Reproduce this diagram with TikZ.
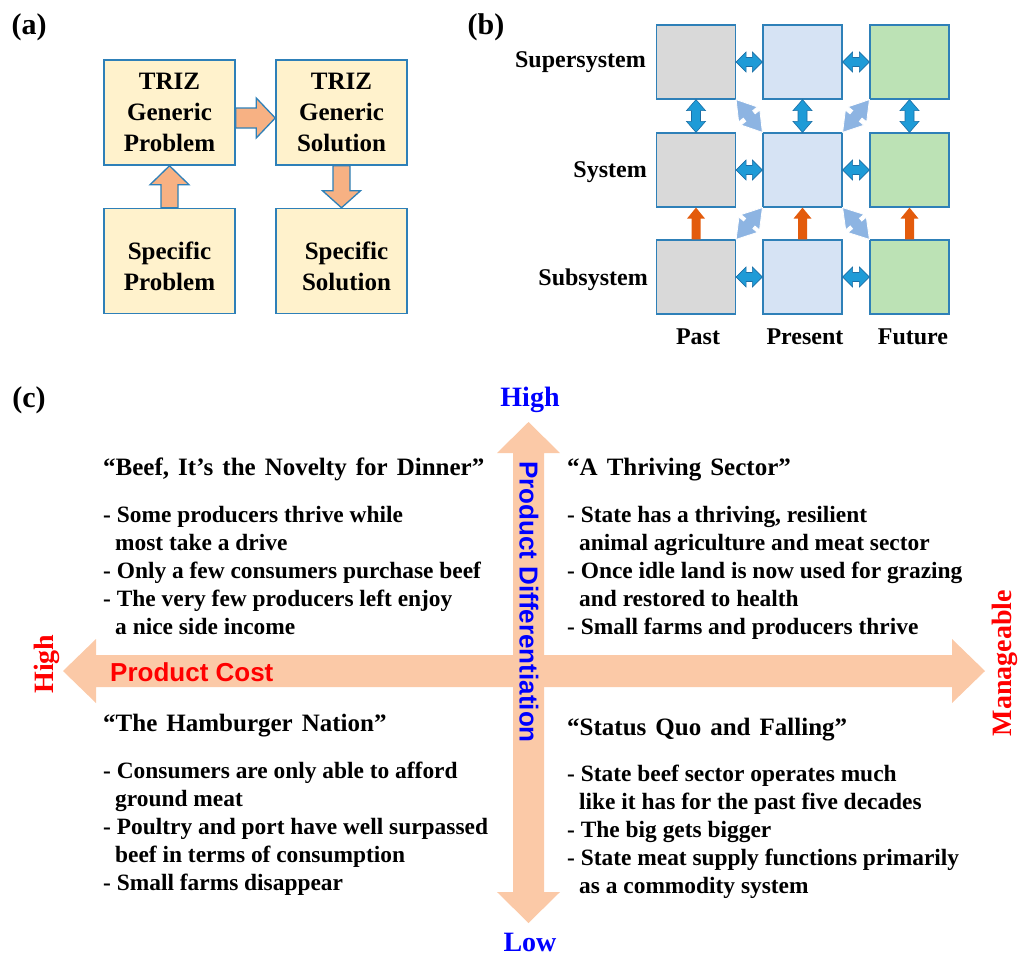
\documentclass[tikz,border=0pt]{standalone}
\usepackage{fontspec}
\setmainfont{Liberation Serif}
\newfontfamily\arialfont{Liberation Sans}
\newfontfamily\titlefont[WordSpace=1.45]{Liberation Serif}
\usetikzlibrary{calc}
\definecolor{boxyel}{HTML}{FFF2CC}
\definecolor{boxedge}{HTML}{2E80B8}
\definecolor{arrorange}{HTML}{F7B183}
\definecolor{cgray}{HTML}{D9D9D9}
\definecolor{cblue}{HTML}{D6E3F4}
\definecolor{cgreen}{HTML}{BCE2B5}
\definecolor{dblfill}{HTML}{1E9BD7}
\definecolor{dbledge}{HTML}{1B6EA5}
\definecolor{orgarr}{HTML}{E35B0C}
\definecolor{diagarr}{HTML}{8DB4E2}
\definecolor{peach}{HTML}{FBC9A7}
\definecolor{pureblue}{HTML}{0000FF}
\definecolor{purered}{HTML}{FF0000}
% single fat arrow: style, from, to, shaft half width, head half width, head length
\newcommand\fatarrow[6]{%
  \path[#1] let \p1=#2, \p2=#3, \n1={veclen(\x2-\x1,\y2-\y1)}, \n2={atan2(\y2-\y1,\x2-\x1)} in
   [shift={(\p1)}, rotate=\n2]
   (0,-#4) -- ({\n1-#6},-#4) -- ({\n1-#6},-#5) -- (\n1,0) -- ({\n1-#6},#5) -- ({\n1-#6},#4) -- (0,#4) -- cycle;}
% double fat arrow
\newcommand\fatdarrow[6]{%
  \path[#1] let \p1=#2, \p2=#3, \n1={veclen(\x2-\x1,\y2-\y1)}, \n2={atan2(\y2-\y1,\x2-\x1)} in
   [shift={(\p1)}, rotate=\n2]
   (0,0) -- (#6,#5) -- (#6,#4) -- ({\n1-#6},#4) -- ({\n1-#6},#5) -- (\n1,0) -- ({\n1-#6},-#5) -- ({\n1-#6},-#4) -- (#6,-#4) -- (#6,-#5) -- cycle;}
\tikzset{
  panellabel/.style={font=\fontsize{30}{34}\selectfont\bfseries, inner sep=0pt},
  abox/.style={draw=boxedge, line width=1.5pt, fill=boxyel, minimum width=131pt, minimum height=105pt,
    inner sep=0pt, align=center, font=\fontsize{25}{31}\selectfont\bfseries},
  bbox/.style={draw=boxedge, line width=1.2pt, minimum width=79pt, minimum height=74pt, inner sep=0pt},
  afat/.style={fill=arrorange, draw=boxedge, line width=1.3pt, line join=miter},
  bdbl/.style={fill=dblfill, draw=dbledge, line width=0.6pt},
  borg/.style={fill=orgarr},
  bdiag/.style={fill=diagarr, draw=white, line width=0.8pt},
  axis/.style={fill=peach},
  rowlab/.style={font=\fontsize{24}{28}\selectfont\bfseries, inner sep=0pt},
  axlab/.style={font=\fontsize{28}{32}\selectfont\bfseries, inner sep=0pt},
  qtitle/.style={font=\titlefont\fontsize{25}{28}\selectfont\bfseries, inner sep=0pt, anchor=base west},
  qbody/.style={font=\fontsize{23.4}{28}\selectfont\bfseries, inner sep=0pt, anchor=north west, align=left},
}
\newcommand\ind{\hspace*{12pt}}
\begin{document}
\begin{tikzpicture}[x=1pt,y=1pt]
\useasboundingbox (0,0) rectangle (1019,-956);
% ---------- (a)
\node[panellabel] (la) at (29,-27) {(a)};
\node[abox] (a1) at (169.5,-112.5) {TRIZ\\Generic\\Problem};
\node[abox] (a2) at (341.5,-112.5) {TRIZ\\Generic\\Solution};
\node[abox] (a3) at (169.5,-261) {\\[-2pt]Specific\\Problem};
\node[abox] (a4) at (341.5,-261) {\\[-2pt]\hspace*{10pt}Specific\\\hspace*{10pt}Solution};
\fatarrow{afat}{($(a1.east)+(0,-5.5)$)}{($(a2.west)+(0,-5.5)$)}{10}{20}{19}
\fatarrow{afat}{(a3.north)}{(a1.south)}{8.5}{19.5}{19}
\fatarrow{afat}{(a2.south)}{(a4.north)}{8.5}{19}{17}
% ---------- (b)
\node[panellabel] (lb) at (486,-27) {(b)};
\foreach \r/\y in {1/62,2/170,3/277}{
  \node[bbox, fill=cgray]  (r\r c1) at (696,-\y) {};
  \node[bbox, fill=cblue]  (r\r c2) at (802.5,-\y) {};
  \node[bbox, fill=cgreen] (r\r c3) at (909.5,-\y) {};
}
\foreach \r in {1,2,3}{
  \fatdarrow{bdbl}{(r\r c1.east)}{(r\r c2.west)}{4.5}{10}{10}
  \fatdarrow{bdbl}{(r\r c2.east)}{(r\r c3.west)}{4.5}{10}{10}
}
\foreach \c in {1,2,3}{
  \fatdarrow{bdbl}{(r1c\c.south)}{(r2c\c.north)}{4.5}{9.5}{11}
  \fatarrow{borg}{(r3c\c.north)}{(r2c\c.south)}{4.5}{9}{11}
}
\fatdarrow{bdiag}{(r1c1.south east)}{(r2c2.north west)}{6}{12}{19}
\fatdarrow{bdiag}{(r1c3.south west)}{(r2c2.north east)}{6}{12}{19}
\fatdarrow{bdiag}{(r2c2.south west)}{(r3c1.north east)}{6}{12}{19}
\fatdarrow{bdiag}{(r2c2.south east)}{(r3c3.north west)}{6}{12}{19}
\node[rowlab, anchor=east] (lsup) at (646,-62) {Supersystem};
\node[rowlab, anchor=east] (lsys) at (647,-172) {System};
\node[rowlab, anchor=east] (lsub) at (648,-280) {Subsystem};
\node[rowlab] (lpast) at (698,-337) {Past};
\node[rowlab] (lpres) at (805,-337) {Present};
\node[rowlab] (lfut) at (913,-337) {Future};
% ---------- (c)
\node[panellabel] (lc) at (29,-400) {(c)};
\coordinate (xl) at (63,-671);
\coordinate (xr) at (985,-671);
\coordinate (yt) at (528.5,-422);
\coordinate (yb) at (528.5,-923);
\fatdarrow{axis}{(xl)}{(xr)}{16}{32}{33}
\fatdarrow{axis}{(yb)}{(yt)}{15.5}{31.5}{31}
\node[font=\arialfont\fontsize{26}{28}\selectfont\bfseries, text=purered, anchor=west, inner sep=0pt] (pcost) at (110,-672) {Product Cost};
\node[font=\arialfont\fontsize{26}{28}\selectfont\bfseries, text=pureblue, rotate=-90, inner sep=0pt] (pdiff) at (529,-602) {Product Differentiation};
\node[axlab, text=pureblue] (yhigh) at (530,-400) {High};
\node[axlab, text=pureblue] (ylow) at (530,-942) {Low};
\node[axlab, text=purered, rotate=90] (xhigh) at (47,-664) {High};
\node[axlab, text=purered, rotate=90] (xman) at (1005,-663) {Manageable};
% quadrant texts
\node[qtitle] (tlt) at (103,-475) {“Beef, It’s the Novelty for Dinner”};
\node[qbody] (tlb) at (103,-506) {- Some producers thrive while\\\ind most take a drive\\- Only a few consumers purchase beef\\- The very few producers left enjoy\\\ind a nice side income};
\node[qtitle] (trt) at (567,-475) {“A Thriving Sector”};
\node[qbody] (trb) at (567,-506) {- State has a thriving, resilient\\\ind animal agriculture and meat sector\\- Once idle land is now used for grazing\\\ind and restored to health\\- Small farms and producers thrive};
\node[qtitle] (blt) at (103,-731) {“The Hamburger Nation”};
\node[qbody] (blb) at (103,-762) {- Consumers are only able to afford\\\ind ground meat\\- Poultry and port have well surpassed\\\ind beef in terms of consumption\\- Small farms disappear};
\node[qtitle] (brt) at (567,-735) {“Status Quo and Falling”};
\node[qbody] (brb) at (567,-765) {- State beef sector operates much\\\ind like it has for the past five decades\\- The big gets bigger\\- State meat supply functions primarily\\\ind as a commodity system};
\end{tikzpicture}
\end{document}
